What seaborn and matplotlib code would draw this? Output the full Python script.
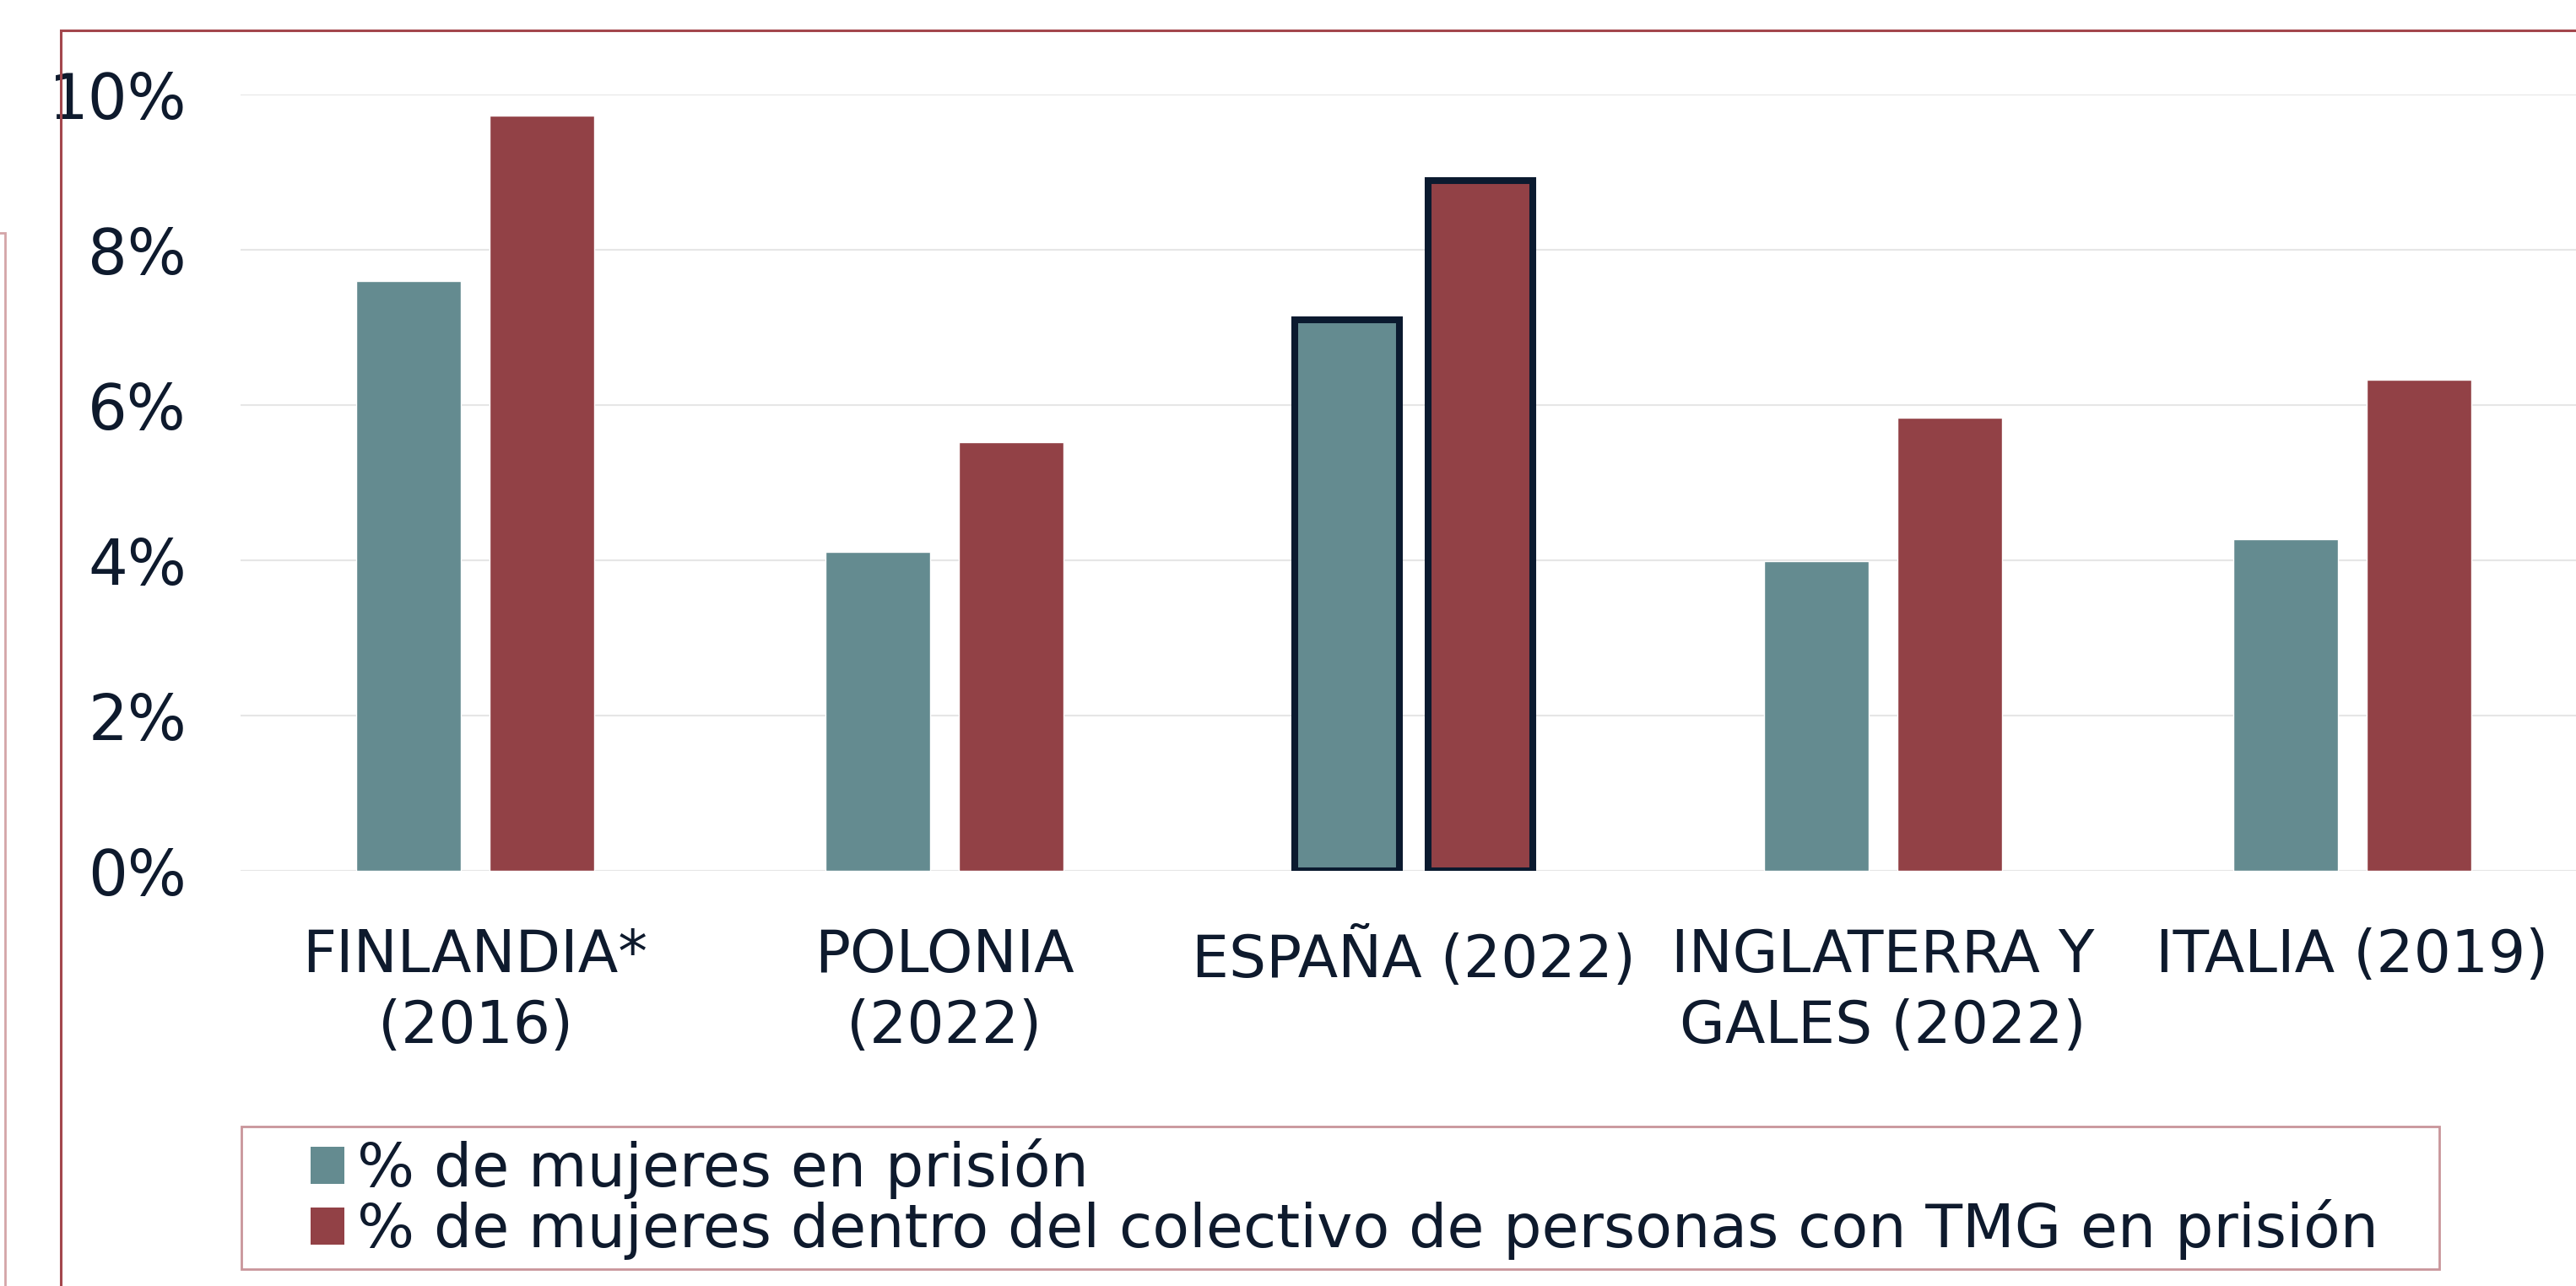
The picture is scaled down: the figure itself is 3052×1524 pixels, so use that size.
import pandas as pd
import matplotlib
matplotlib.use("Agg")
import matplotlib.pyplot as plt
from matplotlib.patches import Patch, Rectangle
from matplotlib.ticker import FuncFormatter
import seaborn as sns

# -------------------------------
# Data
# -------------------------------
countries = ["FINLANDIA*\n(2016)", "POLONIA\n(2022)", "ESPAÑA (2022)",
             "INGLATERRA Y\nGALES (2022)", "ITALIA (2019)"]
series_names = ["% de mujeres en prisión",
                "% de mujeres dentro del colectivo de personas con TMG en prisión"]
women_prison = [7.60, 4.11, 7.10, 3.99, 4.27]
women_tmg = [9.73, 5.52, 8.89, 5.84, 6.33]
y_ticks = [0, 2, 4, 6, 8, 10]

colors = ["#648B90", "#924146"]
text_col = "#0E1A2D"

df = pd.DataFrame({
    "pais": countries * 2,
    "serie": [series_names[0]] * 5 + [series_names[1]] * 5,
    "valor": women_prison + women_tmg,
})

# -------------------------------
# Figure
# -------------------------------
sns.set_style("white")
plt.rcParams["font.family"] = ["DejaVu Sans"]
plt.rcParams["text.color"] = text_col

fig = plt.figure(figsize=(30.52, 15.24), dpi=100)
ax = fig.add_axes([285 / 3052, 1 - 1032 / 1524, 2780 / 3052, 920 / 1524])

sns.barplot(data=df, x="pais", y="valor", hue="serie", order=countries,
            hue_order=series_names, palette=colors, width=0.568, gap=0.21,
            saturation=1, legend=False, ax=ax)

# highlight Spain
for cont in ax.containers:
    bar = cont.patches[2]
    bar.set_edgecolor("#0B1A2F")
    bar.set_linewidth(5.8)

ax.set_xlim(-0.5, 4.5)
ax.set_ylim(0, 10)
ax.set_yticks(y_ticks)
ax.yaxis.set_major_formatter(FuncFormatter(lambda v, p: f"{v:.0f}%"))
ax.grid(axis="y", color="#E6E6E6", linewidth=1.5)
ax.set_axisbelow(True)
sns.despine(ax=ax, left=True, bottom=True, top=True, right=True)
ax.set_xlabel("")
ax.set_ylabel("")
ax.tick_params(axis="y", length=0, pad=46, labelsize=53, colors=text_col)
ax.tick_params(axis="x", length=0, pad=48, labelsize=50, colors=text_col)
for lab in ax.get_xticklabels():
    lab.set_linespacing(1.32)

# legend
handles = [Patch(facecolor=c, edgecolor="none") for c in colors]
fig.legend(handles, series_names, loc="upper left",
           bbox_to_anchor=(354 / 3052, 1 - 1335 / 1524), frameon=False,
           fontsize=51.5, handlelength=0.55, handleheight=0.55,
           handletextpad=0.22, labelspacing=0.0, borderpad=0.2,
           borderaxespad=0, labelcolor=text_col)
fig.add_artist(Rectangle((286 / 3052, 1 - 1504 / 1524), 2604 / 3052, 169 / 1524,
                         transform=fig.transFigure, fill=False,
                         edgecolor="#C9959A", linewidth=2))

# outer chart border and neighbouring box edge
fig.add_artist(Rectangle((72 / 3052, -0.05), 1.0, 1 - 36 / 1524 + 0.05,
                         transform=fig.transFigure, fill=False,
                         edgecolor="#A3474D", linewidth=2.2))
fig.add_artist(Rectangle((-0.01, -0.05), 6 / 3052 + 0.01, 1 - 276 / 1524 + 0.05,
                         transform=fig.transFigure, fill=False,
                         edgecolor="#D4A5A8", linewidth=2))

fig.savefig("out.png", dpi=100, facecolor="white")
